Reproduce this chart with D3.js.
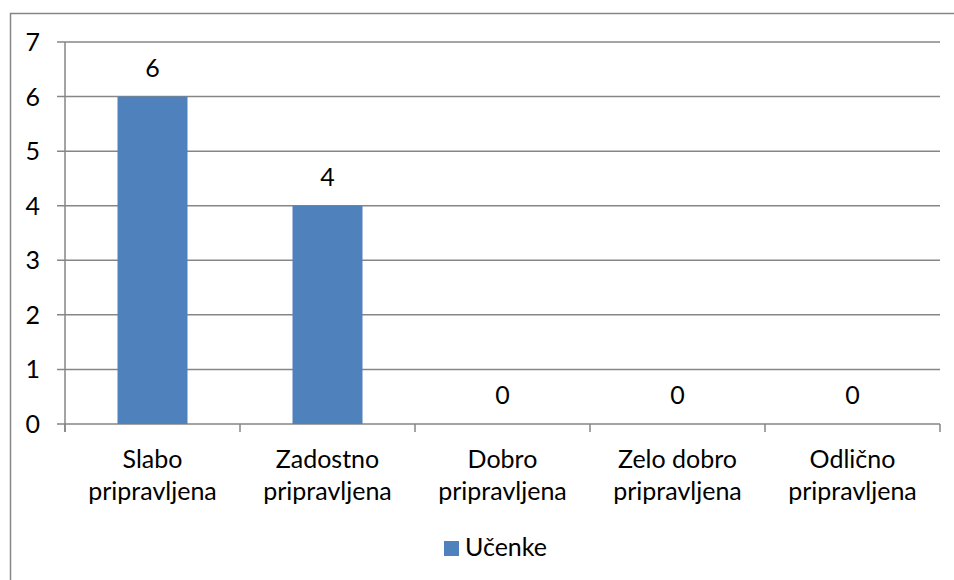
<!DOCTYPE html>
<html>
<head>
<meta charset="utf-8">
<script src="https://cdn.jsdelivr.net/npm/d3@7"></script>
<style>
  body { margin: 0; background: #fff; }
  svg { display: block; }
  text { font-family: Lato, "Open Sans", sans-serif; fill: #000; }
</style>
</head>
<body>
<svg width="954" height="580"></svg>
<script>
const categories = [
  ['Slabo', 'pripravljena'],
  ['Zadostno', 'pripravljena'],
  ['Dobro', 'pripravljena'],
  ['Zelo dobro', 'pripravljena'],
  ['Odlično', 'pripravljena']
];
const values = [6, 4, 0, 0, 0];
const yTicks = [0, 1, 2, 3, 4, 5, 6, 7];
const seriesName = 'Učenke';

const barColor = '#4f81bd';
const lineColor = '#868686';
const fontSize = 25;

const plot = {
  left: 65,
  right: 940,
  top: 42,
  bottom: 424
};

const svg = d3.select('svg');

// outer chart border (runs past the window edge)
svg.append('rect')
  .attr('x', 10.5)
  .attr('y', 13.5)
  .attr('width', 1200)
  .attr('height', 1200)
  .attr('fill', 'none')
  .attr('stroke', lineColor)
  .attr('stroke-width', 1.5);

const x = d3.scaleBand()
  .domain(categories.map((c, i) => i))
  .range([plot.left, plot.right])
  .padding(0);

const y = d3.scaleLinear()
  .domain([0, 7])
  .range([plot.bottom, plot.top]);

// gridlines + y ticks
svg.append('g')
  .selectAll('line')
  .data(yTicks)
  .enter()
  .append('line')
  .attr('x1', plot.left - 8)
  .attr('x2', plot.right)
  .attr('y1', d => y(d))
  .attr('y2', d => y(d))
  .attr('stroke', lineColor)
  .attr('stroke-width', 1.5);

svg.append('g')
  .selectAll('text')
  .data(yTicks)
  .enter()
  .append('text')
  .attr('x', 40)
  .attr('y', d => y(d) + 9)
  .attr('text-anchor', 'end')
  .style('font-size', fontSize + 'px')
  .text(d => d);

// bars
const barW = x.bandwidth() * 0.4;
svg.append('g')
  .selectAll('rect')
  .data(values)
  .enter()
  .append('rect')
  .attr('x', (d, i) => x(i) + (x.bandwidth() - barW) / 2)
  .attr('y', d => y(d))
  .attr('width', barW)
  .attr('height', d => y(0) - y(d))
  .attr('fill', barColor);

// y axis line
svg.append('line')
  .attr('x1', plot.left)
  .attr('x2', plot.left)
  .attr('y1', plot.top)
  .attr('y2', plot.bottom + 8)
  .attr('stroke', lineColor)
  .attr('stroke-width', 1.5);

// category ticks
const bounds = categories.map((c, i) => x(i)).concat([plot.right]);
svg.append('g')
  .selectAll('line')
  .data(bounds)
  .enter()
  .append('line')
  .attr('x1', d => d)
  .attr('x2', d => d)
  .attr('y1', plot.bottom)
  .attr('y2', plot.bottom + 8)
  .attr('stroke', lineColor)
  .attr('stroke-width', 1.5);

// data labels
svg.append('g')
  .selectAll('text')
  .data(values)
  .enter()
  .append('text')
  .attr('x', (d, i) => x(i) + x.bandwidth() / 2)
  .attr('y', d => y(d) - 20)
  .attr('text-anchor', 'middle')
  .style('font-size', fontSize + 'px')
  .text(d => d);

// category labels
const catLabels = svg.append('g')
  .selectAll('text')
  .data(categories)
  .enter()
  .append('text')
  .attr('text-anchor', 'middle')
  .style('font-size', fontSize + 'px');

catLabels.selectAll('tspan')
  .data((d, i) => d.map(line => ({ line, i })))
  .enter()
  .append('tspan')
  .attr('x', d => x(d.i) + x.bandwidth() / 2)
  .attr('y', (d, j) => 468 + j * 32)
  .text(d => d.line);

// legend
const legend = svg.append('g');
legend.append('rect')
  .attr('x', 444)
  .attr('y', 541)
  .attr('width', 15)
  .attr('height', 15)
  .attr('fill', barColor);
legend.append('text')
  .attr('x', 465)
  .attr('y', 556)
  .style('font-size', fontSize + 'px')
  .text(seriesName);
</script>
</body>
</html>
